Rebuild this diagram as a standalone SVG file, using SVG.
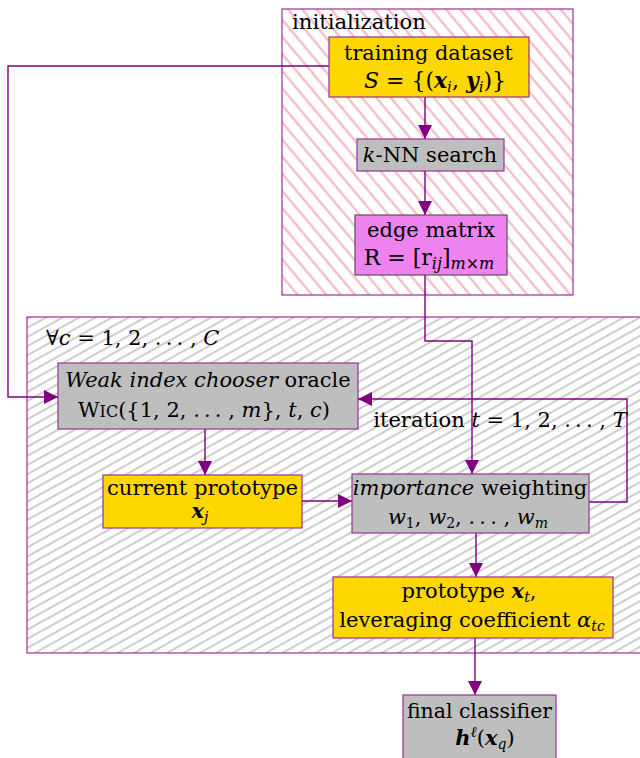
<svg xmlns="http://www.w3.org/2000/svg" width="640" height="758" viewBox="0 0 640 758">
<defs>
<style>
.t { font-family: "DejaVu Serif", serif; font-size: 21px; fill: #000; }
.i { font-style: italic; }
.b { font-style: italic; font-weight: bold; }
.s { font-size: 14px; }
.box { stroke: #9b309b; stroke-width: 1.2; }
.yel { fill: #FFD700; }
.gry { fill: #BEBEBE; }
.mag { fill: #EE82EE; }
.conn { stroke: #800080; stroke-width: 1.4; fill: none; }
</style>
<marker id="arr" markerUnits="userSpaceOnUse" markerWidth="14" markerHeight="14" viewBox="0 0 14 14" refX="14" refY="7" orient="auto">
<path d="M0,0 L14,7 L0,14 z" fill="#800080"/>
</marker>
<pattern id="pink" patternUnits="userSpaceOnUse" width="12" height="11" patternTransform="rotate(50)">
<line x1="0" y1="5.5" x2="12" y2="5.5" stroke="#f5b0c0" stroke-width="2"/>
</pattern>
<pattern id="grayh" patternUnits="userSpaceOnUse" width="12" height="8" patternTransform="rotate(-29)">
<line x1="0" y1="4" x2="12" y2="4" stroke="#c9c9c9" stroke-width="1.8"/>
</pattern>
</defs>
<rect width="640" height="758" fill="#fff"/>

<g id="initialization">
<rect x="282" y="9" width="291" height="286" fill="#fff"/>
<rect x="282" y="9" width="291" height="286" fill="url(#pink)" stroke="#9b309b" stroke-width="1.2"/>
<text class="t" x="292" y="29" textLength="134" lengthAdjust="spacingAndGlyphs">initialization</text>
</g>

<g id="loop">
<rect x="27" y="317" width="620" height="336" fill="#fff"/>
<rect x="27" y="317" width="620" height="336" fill="url(#grayh)" stroke="#9b309b" stroke-width="1.2"/>
<text class="t" x="46" y="345">∀<tspan class="i">c</tspan> = 1, 2, .&#8201;.&#8201;. , <tspan class="i">C</tspan></text>
</g>

<g id="connectors">
<polyline class="conn" points="329,66 8,66 8,397 58,397" marker-end="url(#arr)"/>
<line class="conn" x1="425" y1="97" x2="425" y2="139" marker-end="url(#arr)"/>
<line class="conn" x1="425" y1="171" x2="425" y2="215" marker-end="url(#arr)"/>
<polyline class="conn" points="425,275 425,341 472,341 472,474" marker-end="url(#arr)"/>
<line class="conn" x1="205" y1="429" x2="205" y2="475" marker-end="url(#arr)"/>
<line class="conn" x1="302" y1="501" x2="352" y2="501" marker-end="url(#arr)"/>
<polyline class="conn" points="589,502 627,502 627,399 358,399" marker-end="url(#arr)"/>
<line class="conn" x1="476" y1="533" x2="476" y2="577" marker-end="url(#arr)"/>
<line class="conn" x1="475" y1="638" x2="475" y2="695" marker-end="url(#arr)"/>
</g>

<g id="training-dataset">
<rect x="329" y="37" width="200" height="60" class="box yel"/>
<text class="t" x="428.5" y="60" text-anchor="middle" textLength="169" lengthAdjust="spacingAndGlyphs">training dataset</text>
<text class="t" x="435" y="88" text-anchor="middle" style="font-size:22px"><tspan class="i">S</tspan> = {(<tspan class="b">x</tspan><tspan class="i" style="font-size:15px" dy="4">i</tspan><tspan dy="-4">, </tspan><tspan class="b">y</tspan><tspan class="i" style="font-size:15px" dy="4">i</tspan><tspan dy="-4">)}</tspan></text>
</g>

<g id="knn-search">
<rect x="357" y="139" width="147" height="32" class="box gry"/>
<text class="t" x="430" y="162" text-anchor="middle"><tspan class="i">k</tspan>-NN search</text>
</g>

<g id="edge-matrix">
<rect x="355" y="215" width="152" height="60" class="mag" stroke="#555" stroke-width="1.2"/>
<text class="t" x="431" y="237" text-anchor="middle" textLength="128" lengthAdjust="spacingAndGlyphs">edge matrix</text>
<text class="t" x="429" y="265" text-anchor="middle" style="font-size:22px">R = [r<tspan class="i" style="font-size:16px" dy="4">ij</tspan><tspan dy="-4">]</tspan><tspan class="i" style="font-size:16px" dy="4">m×m</tspan></text>
</g>

<g id="wic-oracle">
<rect x="58" y="363" width="300" height="66" class="box gry"/>
<text class="t" x="208" y="387" text-anchor="middle"><tspan class="i">Weak index chooser</tspan> oracle</text>
<text class="t" x="204" y="417" text-anchor="middle">W<tspan style="font-size:16px">IC</tspan>({1, 2, .&#8201;.&#8201;. , <tspan class="i">m</tspan>}, <tspan class="i">t</tspan>, <tspan class="i">c</tspan>)</text>
</g>

<g id="iteration-label">
<text class="t" x="500" y="427" text-anchor="middle">iteration <tspan class="i">t</tspan> = 1, 2, .&#8201;.&#8201;. , <tspan class="i">T</tspan></text>
</g>

<g id="current-prototype">
<rect x="103" y="475" width="199" height="53" class="box yel"/>
<text class="t" x="202.5" y="495" text-anchor="middle" textLength="191" lengthAdjust="spacingAndGlyphs">current prototype</text>
<text class="t" x="200" y="518" text-anchor="middle"><tspan class="b">x</tspan><tspan class="i s" dy="4">j</tspan></text>
</g>

<g id="importance-weighting">
<rect x="352" y="474" width="237" height="59" class="box gry"/>
<text class="t" x="470" y="495" text-anchor="middle"><tspan class="i">importance</tspan> weighting</text>
<text class="t" x="468" y="524" text-anchor="middle"><tspan class="i">w</tspan><tspan class="s" dy="4">1</tspan><tspan dy="-4">, </tspan><tspan class="i">w</tspan><tspan class="s" dy="4">2</tspan><tspan dy="-4">, .&#8201;.&#8201;. , </tspan><tspan class="i">w</tspan><tspan class="i s" dy="4">m</tspan></text>
</g>

<g id="prototype">
<rect x="333" y="577" width="280" height="61" class="box yel"/>
<text class="t" x="469" y="598" text-anchor="middle">prototype <tspan class="b">x</tspan><tspan class="i s" dy="4">t</tspan><tspan dy="-4">,</tspan></text>
<text class="t" x="472" y="627" text-anchor="middle">leveraging coefficient <tspan class="i">α</tspan><tspan class="i s" dy="4">tc</tspan></text>
</g>

<g id="final-classifier">
<rect x="403" y="695" width="153" height="70" class="box gry"/>
<text class="t" x="479.5" y="718" text-anchor="middle" textLength="145" lengthAdjust="spacingAndGlyphs">final classifier</text>
<text class="t" x="485" y="745" text-anchor="middle"><tspan class="b">h</tspan><tspan class="i" style="font-size:15px" dy="-8">ℓ</tspan><tspan dy="8">(</tspan><tspan class="b">x</tspan><tspan class="i s" dy="4">q</tspan><tspan dy="-4">)</tspan></text>
</g>
</svg>
